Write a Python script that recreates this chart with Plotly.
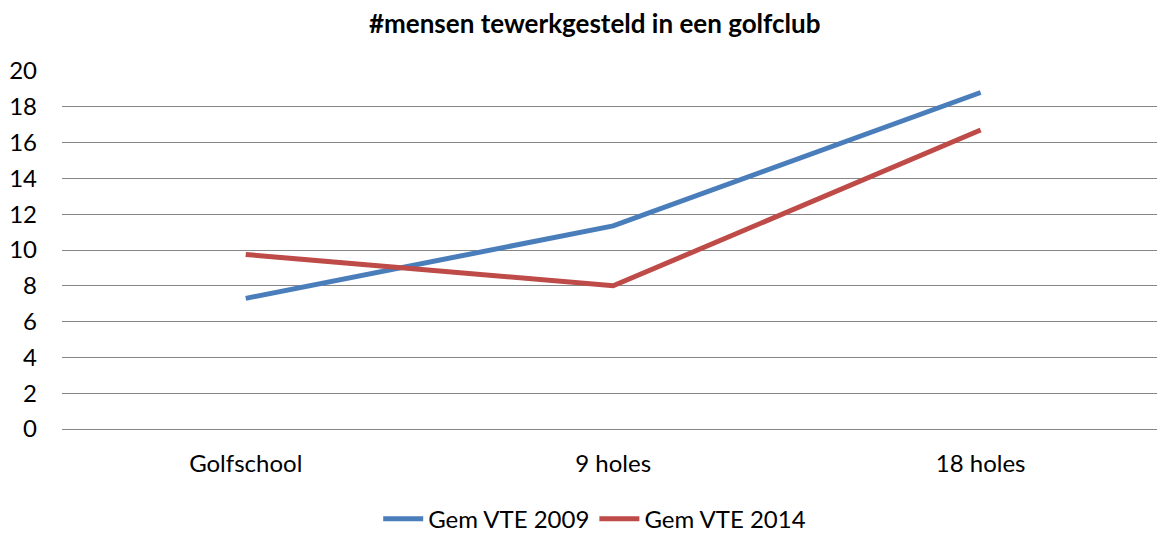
import plotly.graph_objects as go

# Categories and average FTE counts per club type
categories = ["Golfschool", "9 holes", "18 holes"]
vte_2009 = [7.3, 11.35, 18.8]
vte_2014 = [9.75, 8.0, 16.7]
y_ticks = list(range(0, 21, 2))

FONT = "Lato, 'Open Sans', sans-serif"

fig = go.Figure()
fig.add_trace(go.Scatter(
    x=categories, y=vte_2009, name="Gem VTE 2009", mode="lines",
    line=dict(color="#4A7EBB", width=5), cliponaxis=False,
))
fig.add_trace(go.Scatter(
    x=categories, y=vte_2014, name="Gem VTE 2014", mode="lines",
    line=dict(color="#BE4B48", width=5), cliponaxis=False,
))

fig.update_layout(
    width=1157, height=533,
    margin=dict(l=62, r=0, t=71, b=104, autoexpand=False),
    paper_bgcolor="white", plot_bgcolor="white",
    font=dict(family=FONT, size=24, color="#000000"),
    title=dict(
        text="<b>#mensen tewerkgesteld in een golfclub</b>",
        x=0.514, xanchor="center", y=0.955, yanchor="middle",
        font=dict(family=FONT, size=26, color="#000000"),
    ),
    xaxis=dict(
        type="category", range=[-0.5, 2.48],
        showgrid=False, zeroline=False, showline=False,
        ticks="", ticklabelstandoff=18,
        tickfont=dict(family=FONT, size=24),
    ),
    yaxis=dict(
        range=[0, 20], tickvals=y_ticks,
        showgrid=True, gridcolor="#868686", gridwidth=1.3,
        zeroline=True, zerolinecolor="#868686", zerolinewidth=1.3,
        showline=False, ticks="",
        ticklabelstandoff=24,
        tickfont=dict(family=FONT, size=24),
    ),
    legend=dict(
        orientation="h", xref="container", yref="container",
        x=0.514, xanchor="center", y=0.026, yanchor="middle",
        font=dict(family=FONT, size=24), itemwidth=40,
    ),
    showlegend=True,
)

fig.write_html("out.html")
